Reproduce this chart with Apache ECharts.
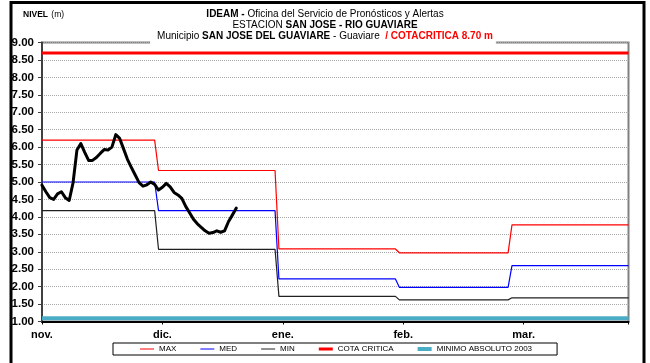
<!DOCTYPE html>
<html>
<head>
<meta charset="utf-8">
<script src="https://cdn.jsdelivr.net/npm/echarts@6/dist/echarts.min.js"></script>
<style>
  html, body { margin: 0; padding: 0; background: #fff; }
  #chart { width: 650px; height: 363px; }
</style>
</head>
<body>
<div id="chart"></div>
<script>
// Daily river level (m) at San Jose del Guaviare, counted in days from 1 November
const nivel = [
  4.91, 4.72, 4.55, 4.50, 4.66, 4.72, 4.55, 4.47, 4.98, 5.92,
  6.10, 5.85, 5.62, 5.62, 5.70, 5.82, 5.93, 5.92, 6.00, 6.36,
  6.25, 5.95, 5.65, 5.42, 5.20, 4.98, 4.88, 4.92, 5.00, 4.93,
  4.77, 4.85, 4.96, 4.86, 4.70, 4.63, 4.53, 4.30, 4.12, 3.93,
  3.80, 3.70, 3.60, 3.53, 3.55, 3.60, 3.56, 3.60, 3.86, 4.05,
  4.25
];

// First day of each month (days from 1 November, leap February) and last day shown
const monthStarts = [0, 30, 61, 92, 121];
const lastDay = 151;

// Monthly historical statistics (m)
const maxMonthly = [6.20, 5.33, 3.08, 2.97, 3.77];
const medMonthly = [5.00, 4.18, 2.22, 1.98, 2.60];
const minMonthly = [4.18, 3.07, 1.72, 1.62, 1.68];

// Reference levels (m)
const cotaCritica = 8.70;
const minimoAbsoluto = 1.09;

// Axis ticks
const monthLabels = ['nov.', 'dic.', 'ene.', 'feb.', 'mar.'];
const tickStep = 31;
const yMin = 1, yMax = 9, yStep = 0.5;

const FONT = '"Liberation Sans", Arial, Helvetica, sans-serif';

// One flat segment per month; consecutive months joined over one day
function monthlySteps(vals) {
  const out = [];
  vals.forEach((v, i) => {
    const s = monthStarts[i];
    const e = i + 1 < monthStarts.length ? monthStarts[i + 1] - 1 : lastDay;
    out.push([s, v], [e, v]);
  });
  return out;
}

const chart = echarts.init(document.getElementById('chart'), null, { renderer: 'canvas' });

chart.setOption({
  animation: false,
  backgroundColor: '#fff',
  textStyle: { fontFamily: FONT },
  title: {
    left: 'center',
    top: 8,
    padding: [1, 3, 3, 7],
    backgroundColor: '#fff',
    text: '{b|IDEAM -} {n|Oficina del Servicio de Pronósticos y Alertas}\n' +
          '{n|ESTACION }{b|SAN JOSE - RIO GUAVIARE}\n' +
          '{n|Municipio }{b|SAN JOSE DEL GUAVIARE}{n| - Guaviare  }{r|/ COTACRITICA 8.70 m}',
    textStyle: {
      fontFamily: FONT,
      fontSize: 10,
      fontWeight: 'normal',
      lineHeight: 11,
      color: '#000',
      align: 'center',
      rich: {
        b: { fontFamily: FONT, fontSize: 10, fontWeight: 'bold', color: '#000', lineHeight: 11 },
        n: { fontFamily: FONT, fontSize: 10, fontWeight: 'normal', color: '#000', lineHeight: 11 },
        r: { fontFamily: FONT, fontSize: 10, fontWeight: 'bold', color: '#ff0000', lineHeight: 11 }
      }
    }
  },
  graphic: [
    {
      type: 'rect',
      silent: true,
      shape: { x: 11, y: 2.5, width: 633, height: 380 },
      style: { fill: 'none', stroke: '#000', lineWidth: 3 },
      z: 100
    },
    {
      type: 'text',
      x: 23,
      y: 9,
      style: {
        text: '{b|NIVEL} {n|(m)}',
        rich: {
          b: { fontFamily: FONT, fontSize: 8.5, fontWeight: 'bold', fill: '#000' },
          n: { fontFamily: FONT, fontSize: 8.5, fontWeight: 'normal', fill: '#000' }
        }
      }
    }
  ],
  grid: {
    left: 42,
    right: 21.5,
    top: 42.5,
    bottom: 41.5,
    show: true,
    borderColor: '#808080',
    borderWidth: 2,
    backgroundColor: 'transparent'
  },
  legend: {
    left: 113,
    top: 343,
    padding: [2, 25, 2, 27],
    borderColor: '#000',
    borderWidth: 1,
    itemGap: 24,
    itemWidth: 14,
    itemHeight: 9,
    textStyle: { fontFamily: FONT, fontSize: 8, color: '#000' },
    data: [
      { name: 'MAX', icon: 'path://M0,0H14V1H0Z' },
      { name: 'MED', icon: 'path://M0,0H14V1H0Z' },
      { name: 'MIN', icon: 'path://M0,0H14V1H0Z' },
      { name: 'COTA CRITICA', icon: 'path://M0,0H14V3H0Z' },
      { name: 'MINIMO ABSOLUTO 2003', icon: 'path://M0,0H14V4H0Z' }
    ]
  },
  xAxis: {
    type: 'value',
    min: 0,
    max: lastDay,
    interval: tickStep,
    axisLine: { show: true, onZero: false, lineStyle: { color: '#000', width: 2 } },
    axisTick: { show: true, length: 3, lineStyle: { color: '#000', width: 1 } },
    splitLine: { show: false },
    axisLabel: {
      margin: 8,
      fontFamily: FONT,
      fontSize: 11,
      fontWeight: 'bold',
      color: '#000',
      formatter: v => (v % tickStep === 0 && v / tickStep < monthLabels.length) ? monthLabels[v / tickStep] : ''
    }
  },
  yAxis: {
    type: 'value',
    min: yMin,
    max: yMax,
    interval: yStep,
    axisLine: { show: true, lineStyle: { color: '#404040', width: 2 } },
    axisTick: { show: true, length: 4, lineStyle: { color: '#404040', width: 1 } },
    splitLine: { show: true, lineStyle: { color: '#a8a8a8', width: 1, type: 'dotted' } },
    axisLabel: {
      margin: 8,
      fontFamily: FONT,
      fontSize: 11.5,
      fontWeight: 'bold',
      color: '#000',
      formatter: v => v.toFixed(2)
    }
  },
  series: [
    {
      name: 'MINIMO ABSOLUTO 2003',
      type: 'line',
      symbol: 'none',
      color: '#4bacc6',
      lineStyle: { color: '#4bacc6', width: 4 },
      data: [[0, minimoAbsoluto], [lastDay, minimoAbsoluto]],
      z: 2
    },
    {
      name: 'MAX',
      type: 'line',
      symbol: 'none',
      color: '#ff0000',
      lineStyle: { color: '#ff0000', width: 1.2 },
      data: monthlySteps(maxMonthly),
      z: 3
    },
    {
      name: 'MED',
      type: 'line',
      symbol: 'none',
      color: '#0000ff',
      lineStyle: { color: '#0000ff', width: 1.2 },
      data: monthlySteps(medMonthly),
      z: 3
    },
    {
      name: 'MIN',
      type: 'line',
      symbol: 'none',
      color: '#202020',
      lineStyle: { color: '#202020', width: 1.2 },
      data: monthlySteps(minMonthly),
      z: 3
    },
    {
      name: 'COTA CRITICA',
      type: 'line',
      symbol: 'none',
      color: '#ff0000',
      lineStyle: { color: '#ff0000', width: 3 },
      data: [[0, cotaCritica], [lastDay, cotaCritica]],
      z: 3
    },
    {
      name: 'NIVEL',
      type: 'line',
      symbol: 'none',
      color: '#000',
      lineStyle: { color: '#000', width: 3, join: 'round', cap: 'round' },
      data: nivel.map((v, i) => [i, v]),
      z: 5
    }
  ]
});
</script>
</body>
</html>
